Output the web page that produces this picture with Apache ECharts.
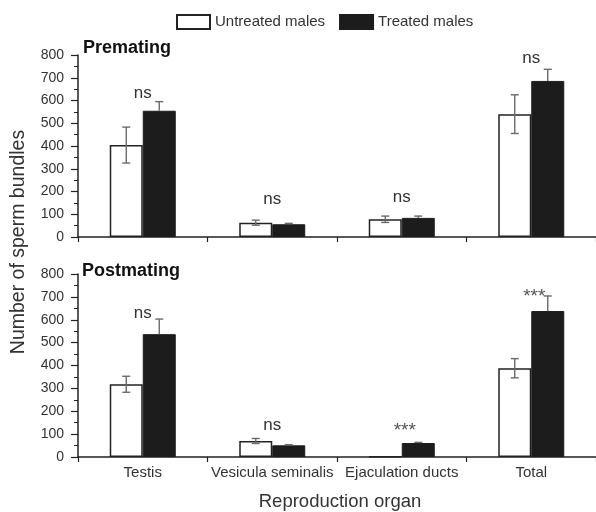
<!DOCTYPE html>
<html><head><meta charset="utf-8">
<script src="https://cdn.jsdelivr.net/npm/echarts@6/dist/echarts.min.js"></script>
<style>html,body{margin:0;padding:0;background:#fff}#c{width:596px;height:512px}</style>
</head><body><div id="c"></div>
<script>
const categories = ['Testis', 'Vesicula seminalis', 'Ejaculation ducts', 'Total'];
const yTicks = [0, 100, 200, 300, 400, 500, 600, 700, 800];
// Premating
const preUntreated = [404, 63, 78, 540];
const preUntreatedErr = [79, 11, 14, 85];
const preTreated = [555, 56, 84, 686];
const preTreatedErr = [40, 4, 8, 51];
const preSig = ['ns', 'ns', 'ns', 'ns'];
const preSigAt = [633, 167, 176, 787];
// Postmating
const postUntreated = [318, 70, 2, 388];
const postUntreatedErr = [35, 11, 0, 42];
const postTreated = [537, 51, 61, 638];
const postTreatedErr = [66, 3, 3, 66];
const postSig = ['ns', 'ns', '***', '***'];
const postSigAt = [630, 140, 127, 712];

const chart = echarts.init(document.getElementById('c'), null, {renderer: 'canvas'});
const FONT = 'Liberation Sans, Arial, sans-serif';
const TXT = '#333';
const AX = '#222';
const BW = 33;

function errSeries(idx, means, errs, offset, upOnly) {
  return {
    type: 'custom', xAxisIndex: idx, yAxisIndex: idx, z: 5, silent: true,
    data: means.map((m, i) => [i, upOnly ? m : m - errs[i], m + errs[i], errs[i]]),
    renderItem: function (params, api) {
      if (api.value(3) <= 0) return null;
      const lo = api.coord([api.value(0), api.value(1)]);
      const hi = api.coord([api.value(0), api.value(2)]);
      const x = lo[0] + offset;
      const st = {stroke: '#6a6a6a', lineWidth: 1.4};
      return {type: 'group', children: [
        {type: 'line', shape: {x1: x, y1: lo[1], x2: x, y2: hi[1]}, style: st},
        {type: 'line', shape: {x1: x - 4, y1: hi[1], x2: x + 4, y2: hi[1]}, style: st},
        upOnly ? null : {type: 'line', shape: {x1: x - 4, y1: lo[1], x2: x + 4, y2: lo[1]}, style: st}
      ].filter(Boolean)};
    }
  };
}
function sigSeries(idx, labels, at) {
  return {
    type: 'custom', xAxisIndex: idx, yAxisIndex: idx, z: 6, silent: true,
    data: labels.map((l, i) => [i, at[i]]),
    renderItem: function (params, api) {
      const p = api.coord([api.value(0), api.value(1)]);
      const t = labels[params.dataIndex];
      const star = t.indexOf('*') >= 0;
      return {type: 'text', x: p[0] + (star ? 3 : 0), y: p[1] + (star ? 3 : 0), style: {
        text: t, fill: star ? '#555' : TXT, font: (star ? '19px ' : '17px ') + FONT,
        align: 'center', verticalAlign: 'middle'}};
    }
  };
}
function yAxis(idx) {
  return {
    type: 'value', gridIndex: idx, min: 0, max: 800, interval: 100,
    axisLine: {show: true, lineStyle: {color: AX, width: 1.5}},
    axisTick: {show: true, length: 7, lineStyle: {color: AX, width: 1.2}},
    minorTick: {show: true, splitNumber: 2, length: 4, lineStyle: {color: AX, width: 1}},
    splitLine: {show: false},
    axisLabel: {color: TXT, fontSize: 14, fontFamily: FONT, margin: 14,
      formatter: v => yTicks.indexOf(v) >= 0 ? String(v) : ''}
  };
}
function xAxis(idx, showLabel) {
  return {
    type: 'category', gridIndex: idx, data: categories, boundaryGap: true,
    axisLine: {show: true, lineStyle: {color: AX, width: 1.5}},
    axisTick: {show: true, length: 5, inside: false, lineStyle: {color: AX, width: 1.2}},
    axisLabel: {show: showLabel, color: TXT, fontSize: 15, fontFamily: FONT, margin: 8, interval: 0}
  };
}
const whiteStyle = {color: '#ffffff', borderColor: AX, borderWidth: 1.5};
const blackStyle = {color: '#1c1c1c', borderColor: '#1c1c1c', borderWidth: 1};

chart.setOption({
  animation: false,
  backgroundColor: '#fff',
  legend: {
    left: 176, top: 14, itemWidth: 33, itemHeight: 14, itemGap: 14, padding: 0,
    data: [{name: 'Untreated males', icon: 'rect'}, {name: 'Treated males', icon: 'rect'}],
    textStyle: {color: TXT, fontSize: 15, fontFamily: FONT}
  },
  grid: [
    {left: 78, top: 55, width: 525, height: 182},
    {left: 78, top: 274, width: 525, height: 183}
  ],
  xAxis: [xAxis(0, false), xAxis(1, true)],
  yAxis: [yAxis(0), yAxis(1)],
  graphic: [
    {type: 'text', left: 83, top: 39, style: {text: 'Premating', font: 'bold 18px ' + FONT, fill: '#111'}},
    {type: 'text', left: 82, top: 262, style: {text: 'Postmating', font: 'bold 18px ' + FONT, fill: '#111'}},
    {type: 'text', x: 19, y: 242, rotation: Math.PI / 2, style: {text: 'Number of sperm bundles',
      font: '19.5px ' + FONT, fill: TXT, align: 'center', verticalAlign: 'middle'}},
    {type: 'text', x: 340, y: 502, style: {text: 'Reproduction organ',
      font: '18.5px ' + FONT, fill: TXT, align: 'center', verticalAlign: 'middle'}}
  ],
  series: [
    {type: 'bar', name: 'Untreated males', xAxisIndex: 0, yAxisIndex: 0, data: preUntreated,
      barWidth: BW, barGap: '0%', itemStyle: whiteStyle, z: 2},
    {type: 'bar', name: 'Treated males', xAxisIndex: 0, yAxisIndex: 0, data: preTreated,
      barWidth: BW, barGap: '0%', itemStyle: blackStyle, z: 2},
    {type: 'bar', name: 'Untreated males', xAxisIndex: 1, yAxisIndex: 1, data: postUntreated,
      barWidth: BW, barGap: '0%', itemStyle: whiteStyle, z: 2},
    {type: 'bar', name: 'Treated males', xAxisIndex: 1, yAxisIndex: 1, data: postTreated,
      barWidth: BW, barGap: '0%', itemStyle: blackStyle, z: 2},
    errSeries(0, preUntreated, preUntreatedErr, -BW / 2, false),
    errSeries(0, preTreated, preTreatedErr, BW / 2, true),
    errSeries(1, postUntreated, postUntreatedErr, -BW / 2, false),
    errSeries(1, postTreated, postTreatedErr, BW / 2, true),
    sigSeries(0, preSig, preSigAt),
    sigSeries(1, postSig, postSigAt)
  ]
});
</script></body></html>
